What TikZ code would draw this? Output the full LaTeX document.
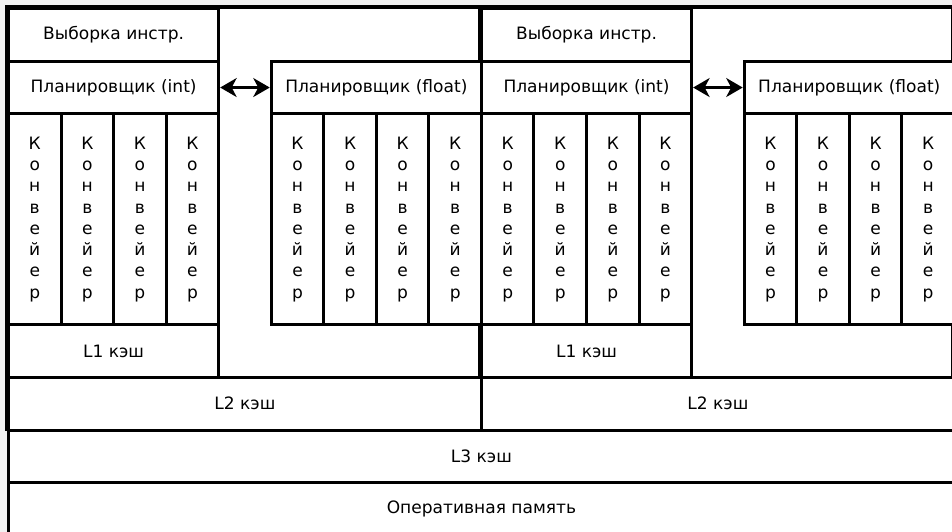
\documentclass[tikz,border=0pt]{standalone}
\usepackage{fontspec}
\setmainfont{DejaVu Sans}
\usetikzlibrary{arrows.meta}

\newcommand{\cellw}{1.051cm}
\newcommand{\cellh}{1.054cm}
\newcommand{\konv}{К\\о\\н\\в\\е\\й\\е\\р}

\tikzset{
  box/.style={draw, fill=white, line width=1.7pt, inner sep=0pt, anchor=north west,
    font=\fontsize{9.7}{12.1}\selectfont, align=center},
  wide/.style={box, minimum width=4*\cellw, minimum height=\cellh},
  pipe/.style={box, minimum width=\cellw, minimum height=4*\cellh},
  core/.style={draw, fill=white, line width=2.6pt},
  dblarrow/.style={line width=1.3pt, {Stealth[length=3.3mm,width=3.8mm,inset=1mm]}-{Stealth[length=3.3mm,width=3.8mm,inset=1mm]}}
}

\begin{document}
\begin{tikzpicture}[x=\cellw, y=-\cellh]

  % background and page size
  \fill[black!5] (-0.1332,-0.1328) rectangle (17.983,9.962);
  \useasboundingbox (-0.1332,-0.1328) rectangle (17.983,9.962);

  % core frames
  \draw[core] (0,0) rectangle (9,8);
  \draw[core] (9,0) rectangle (18,8);

  % first core
  \node[wide] (fetchA) at (0,0) {Выборка инстр.};
  \node[wide] (schedIntA) at (0,1) {Планировщик (int)};
  \node[pipe] (pipeA1) at (0,2) {\konv};
  \node[pipe] (pipeA2) at (1,2) {\konv};
  \node[pipe] (pipeA3) at (2,2) {\konv};
  \node[pipe] (pipeA4) at (3,2) {\konv};
  \node[wide] (lOneA) at (0,6) {L1 кэш};

  \node[wide] (schedFloatA) at (5,1) {Планировщик (float)};
  \node[pipe] (pipeA5) at (5,2) {\konv};
  \node[pipe] (pipeA6) at (6,2) {\konv};
  \node[pipe] (pipeA7) at (7,2) {\konv};
  \node[pipe] (pipeA8) at (8,2) {\konv};

  \node[wide, minimum width=9*\cellw] (lTwoA) at (0,7) {L2 кэш};

  \draw[dblarrow] (schedIntA.east) -- (schedFloatA.west);

  % second core
  \node[wide] (fetchB) at (9,0) {Выборка инстр.};
  \node[wide] (schedIntB) at (9,1) {Планировщик (int)};
  \node[pipe] (pipeB1) at (9,2) {\konv};
  \node[pipe] (pipeB2) at (10,2) {\konv};
  \node[pipe] (pipeB3) at (11,2) {\konv};
  \node[pipe] (pipeB4) at (12,2) {\konv};
  \node[wide] (lOneB) at (9,6) {L1 кэш};

  \node[wide] (schedFloatB) at (14,1) {Планировщик (float)};
  \node[pipe] (pipeB5) at (14,2) {\konv};
  \node[pipe] (pipeB6) at (15,2) {\konv};
  \node[pipe] (pipeB7) at (16,2) {\konv};
  \node[pipe] (pipeB8) at (17,2) {\konv};

  \node[wide, minimum width=9*\cellw] (lTwoB) at (9,7) {L2 кэш};

  \draw[dblarrow] (schedIntB.east) -- (schedFloatB.west);

  % shared levels
  \node[wide, minimum width=18*\cellw] (lThree) at (0,8) {L3 кэш};
  \node[wide, minimum width=18*\cellw] (ram) at (0,9) {Оперативная память};

\end{tikzpicture}
\end{document}
